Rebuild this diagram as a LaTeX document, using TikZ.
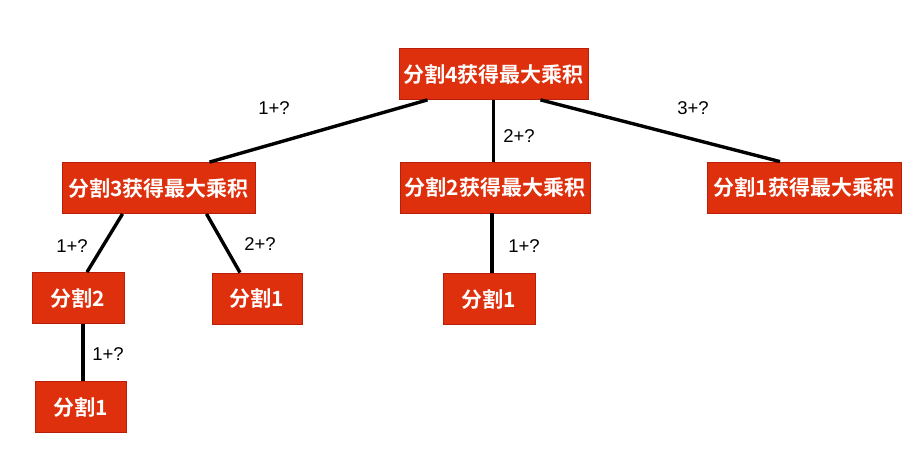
\documentclass[tikz,border=0pt]{standalone}
\usepackage{fontspec}
\newfontfamily\cjk{Noto Sans CJK SC Bold}
\newfontfamily\lab{Liberation Sans}
\definecolor{boxfill}{RGB}{222,48,12}
\definecolor{boxline}{RGB}{185,30,10}
\tikzset{
  redbox/.style={draw=boxline, fill=boxfill, line width=0.8pt, text=white,
    font=\cjk\fontsize{21}{23}\selectfont, inner sep=0pt, minimum height=51pt},
  edge/.style={line width=3.4pt, black},
  elabel/.style={font=\lab\fontsize{18.5}{20}\selectfont, text=black, inner sep=0pt}
}
\begin{document}
\begin{tikzpicture}[x=1pt,y=-1pt]
\useasboundingbox (0,0) rectangle (924,452);
\fill[white] (0,0) rectangle (924,452);
% nodes
\node[redbox, minimum width=189pt] (root) at (493.5,74) {分割4获得最大乘积};
\node[redbox, minimum width=193pt] (n3) at (158.5,188) {分割3获得最大乘积};
\node[redbox, minimum width=190pt] (n2) at (495,187.5) {分割2获得最大乘积};
\node[redbox, minimum width=194pt] (n1) at (804,187.5) {分割1获得最大乘积};
\node[redbox, minimum width=92pt] (a2) at (78,298) {分割2};
\node[redbox, minimum width=90pt] (a1) at (257,298.5) {分割1};
\node[redbox, minimum width=92pt] (b1) at (489,299) {分割1};
\node[redbox, minimum width=91pt] (c1) at (80.5,407) {分割1};
% edges
\draw[edge] ([xshift=-66pt]root.south) -- ([xshift=51pt]n3.north);
\draw[edge] (root.south) -- (root.south |- n2.north);
\draw[edge] ([xshift=47pt]root.south) -- ([xshift=-24pt]n1.north);
\draw[edge] ([xshift=-36pt]n3.south) -- ([xshift=9pt]a2.north);
\draw[edge] ([xshift=48pt]n3.south) -- ([xshift=-17pt]a1.north);
\draw[edge] ([xshift=3pt]b1.north |- n2.south) -- ([xshift=3pt]b1.north);
\draw[edge] ([xshift=5pt]a2.south) -- ([xshift=5pt]a2.south |- c1.north);
% labels
\node[elabel] (l1) at (274,108.5) {1+?};
\node[elabel] (l2) at (519,136) {2+?};
\node[elabel] (l3) at (693,108) {3+?};
\node[elabel] (l4) at (72,246) {1+?};
\node[elabel] (l5) at (260,244) {2+?};
\node[elabel] (l6) at (524,246) {1+?};
\node[elabel] (l7) at (108,354) {1+?};
\end{tikzpicture}
\end{document}
